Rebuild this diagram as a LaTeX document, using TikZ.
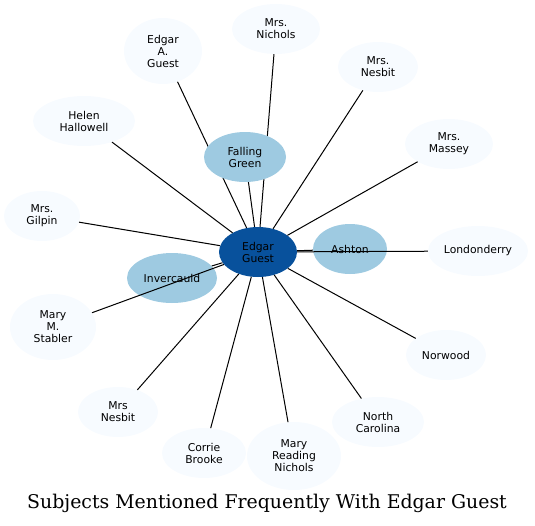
\documentclass[tikz,border=0pt]{standalone}
\usepackage{fontspec}
\setmainfont{DejaVu Sans}
\newfontfamily\titlefont{DejaVu Serif}
\usetikzlibrary{shapes.geometric}
\definecolor{chub}{HTML}{08519C}
\definecolor{cplace}{HTML}{9ECAE1}
\definecolor{cleaf}{HTML}{F7FBFF}

\begin{document}
\begin{tikzpicture}[x=1pt, y=-1pt,
    every node/.style={ellipse, inner sep=0pt, align=center,
      font=\fontsize{10.8}{12}\selectfont},
    hub/.style={fill=chub, minimum width=78pt, minimum height=50pt},
    place/.style={fill=cplace, minimum width=82pt, minimum height=50pt},
    leaf/.style={fill=cleaf, minimum width=84pt, minimum height=50pt},
    tall/.style={leaf, minimum height=66pt},
    link/.style={draw=black, line width=1pt}]
  \useasboundingbox (0,0) rectangle (535,525);
  % hubs first, so that the long links lie over them
  \node[place, minimum width=74pt] (ashton) at (350,249) {Ashton};
  \node[place, minimum width=90pt] (inverc) at (172,278) {Invercauld};
  \node[hub] (eg) at (258,252) {Edgar\\Guest};
  % people and places around
  \node[tall, minimum width=78pt] (eag) at (163,51) {Edgar\\A.\\Guest};
  \node[leaf, minimum width=88pt] (nichols) at (276,29) {Mrs.\\Nichols};
  \node[leaf, minimum width=80pt] (nesbit) at (378,67) {Mrs.\\Nesbit};
  \node[leaf, minimum width=102pt] (helen) at (84,121) {Helen\\Hallowell};
  \node[leaf, minimum width=88pt] (massey) at (449,144) {Mrs.\\Massey};
  \node[leaf, minimum width=76pt] (gilpin) at (42,216) {Mrs.\\Gilpin};
  \node[leaf, minimum width=100pt] (london) at (478,251) {Londonderry};
  \node[tall, minimum width=86pt] (stabler) at (53,327) {Mary\\M.\\Stabler};
  \node[leaf, minimum width=80pt] (norwood) at (446,355) {Norwood};
  \node[leaf, minimum width=80pt] (mnesbit) at (118,412) {Mrs\\Nesbit};
  \node[leaf, minimum width=92pt] (ncar) at (378,422) {North\\Carolina};
  \node[leaf] (corrie) at (204,453) {Corrie\\Brooke};
  \node[tall, minimum width=94pt, minimum height=68pt] (mrn) at (294,456) {Mary\\Reading\\Nichols};
  \foreach \n in {eag,nichols,nesbit,helen,massey,gilpin,london,stabler,
      norwood,mnesbit,ncar,corrie,mrn,ashton,inverc}
    \draw[link] (eg) -- (\n);
  % this one hides the line to Edgar A. Guest
  \node[place] (falling) at (245,157) {Falling\\Green};
  \draw[link] (eg) -- (falling);
  \node[shape=rectangle, font=\titlefont\fontsize{18.9}{22}\selectfont]
    (title) at (267,503) {Subjects Mentioned Frequently With Edgar Guest};
\end{tikzpicture}
\end{document}
